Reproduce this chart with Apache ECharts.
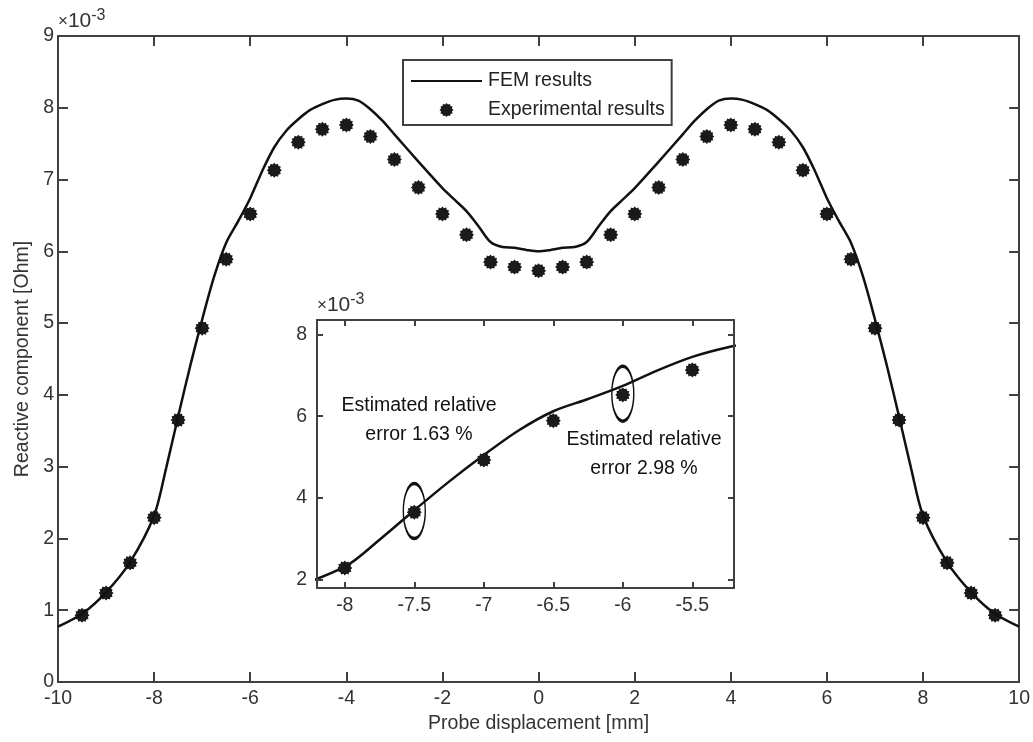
<!DOCTYPE html>
<html>
<head>
<meta charset="utf-8">
<script src="https://cdn.jsdelivr.net/npm/echarts@6/dist/echarts.min.js"></script>
<style>
  html, body { margin: 0; padding: 0; background: #fff; }
  #chart { width: 1033px; height: 742px; }
</style>
</head>
<body>
<div id="chart"></div>
<script>
// FEM curve (x in mm, y in 1e-3 Ohm)
var femX = [-10, -9.5, -9, -8.5, -8, -7.75, -7.5, -7.25, -7, -6.75, -6.5, -6.25, -6, -5.75, -5.5, -5.25, -5, -4.75, -4.5, -4.25, -4,
    -3.75, -3.5, -3.25, -3, -2.5, -2, -1.75, -1.5, -1.25, -1, -0.75, -0.5, -0.25, 0,
    0.25, 0.5, 0.75, 1, 1.25, 1.5, 1.75, 2, 2.5, 3, 3.25, 3.5, 3.75, 4,
    4.25, 4.5, 4.75, 5, 5.25, 5.5, 5.75, 6, 6.25, 6.5, 6.75, 7, 7.25, 7.5, 7.75, 8, 8.5, 9, 9.5, 10];
var femY = [0.77, 0.95, 1.25, 1.67, 2.32, 2.98, 3.70, 4.40, 5.05, 5.65, 6.12, 6.42, 6.74, 7.12, 7.45, 7.68, 7.84, 7.97, 8.05, 8.11, 8.13,
    8.10, 7.98, 7.82, 7.63, 7.25, 6.88, 6.72, 6.56, 6.35, 6.13, 6.06, 6.05, 6.02, 6.00,
    6.02, 6.05, 6.06, 6.13, 6.35, 6.56, 6.72, 6.88, 7.25, 7.63, 7.82, 7.98, 8.10, 8.13,
    8.11, 8.05, 7.97, 7.84, 7.68, 7.45, 7.12, 6.74, 6.42, 6.12, 5.65, 5.05, 4.40, 3.70, 2.98, 2.32, 1.67, 1.25, 0.95, 0.77];

// experimental points
var expX = [-9.5, -9, -8.5, -8, -7.5, -7, -6.5, -6, -5.5, -5, -4.5, -4, -3.5, -3, -2.5, -2, -1.5, -1, -0.5, 0,
    0.5, 1, 1.5, 2, 2.5, 3, 3.5, 4, 4.5, 5, 5.5, 6, 6.5, 7, 7.5, 8, 8.5, 9, 9.5];
var expY = [0.93, 1.24, 1.66, 2.29, 3.65, 4.93, 5.89, 6.52, 7.13, 7.52, 7.70, 7.76, 7.60, 7.28, 6.89, 6.52, 6.23, 5.85, 5.78, 5.73,
    5.78, 5.85, 6.23, 6.52, 6.89, 7.28, 7.60, 7.76, 7.70, 7.52, 7.13, 6.52, 5.89, 4.93, 3.65, 2.29, 1.66, 1.24, 0.93];

// points circled in the inset
var markX = [-7.5, -6];
var markY = [3.68, 6.55];

var insetXTicks = [-8, -7.5, -7, -6.5, -6, -5.5];
var insetYTicks = [2, 4, 6, 8];

function pairs(xs, ys) {
    return xs.map(function (x, i) { return [x, ys[i]]; });
}

// asterisk-like marker
function starPath(n) {
    var pts = [];
    for (var i = 0; i < n * 2; i++) {
        var r = i % 2 == 0 ? 10 : 8.0;
        var a = Math.PI * i / n;
        pts.push((10 + r * Math.sin(a)).toFixed(2) + ',' + (10 - r * Math.cos(a)).toFixed(2));
    }
    return 'path://M' + pts.join('L') + 'Z';
}
var star = starPath(12);

var font = 'Liberation Sans, Arial, sans-serif';
var fs = 19.5;
var axisColor = '#404040';
var textColor = '#333';
var markColor = '#1a1a1a';

function boxAxis(pos, min, max, interval, grid, len, extra) {
    var ax = {
        type: 'value',
        gridIndex: grid,
        position: pos,
        min: min,
        max: max,
        interval: interval,
        z: grid == 1 ? 7 : 0,
        axisLine: { show: true, onZero: false, lineStyle: { color: axisColor, width: 2 } },
        axisTick: { show: true, inside: true, length: len, lineStyle: { color: axisColor, width: 2 } },
        axisLabel: { show: false },
        splitLine: { show: false }
    };
    return Object.assign(ax, extra || {});
}

function insetTicks(vals) {
    return { show: true, inside: true, length: 6, customValues: vals, lineStyle: { color: axisColor, width: 2 } };
}

var expoText = {
    text: '{x|×}10{sup|-3}', fontSize: 21, fill: textColor, fontFamily: font,
    rich: {
        x: { fontSize: 17, fill: textColor },
        sup: { fontSize: 16, verticalAlign: 'top', padding: [0, 0, 10, 0], fill: textColor }
    }
};

var chart = echarts.init(document.getElementById('chart'));
var option = {
    animation: false,
    backgroundColor: '#fff',
    textStyle: { fontFamily: font },
    grid: [
        { left: 58, right: 13, top: 36, bottom: 60 },
        { left: 317, top: 320, width: 417, height: 268, show: true, backgroundColor: '#fff', borderWidth: 0, z: 5 }
    ],
    legend: {
        orient: 'vertical',
        left: 403,
        top: 60,
        itemWidth: 71,
        itemHeight: 14,
        itemGap: 9,
        padding: [11, 7, 5, 8],
        borderColor: axisColor,
        borderWidth: 2,
        backgroundColor: '#fff',
        textStyle: { fontSize: fs, color: '#222', fontFamily: font, padding: [0, 0, 0, 1] },
        data: [
            { name: 'FEM results', icon: 'path://M0,0L71,0L71,2.2L0,2.2Z' },
            { name: 'Experimental results', icon: star }
        ]
    },
    xAxis: [
        boxAxis('bottom', -10, 10, 2, 0, 10, {
            name: 'Probe displacement [mm]',
            nameLocation: 'middle',
            nameGap: 29,
            nameTextStyle: { fontSize: fs, color: textColor },
            axisLabel: { show: true, fontSize: fs, color: textColor, margin: 7 }
        }),
        boxAxis('top', -10, 10, 2, 0, 10),
        boxAxis('bottom', -8.2, -5.2, null, 1, 6, {
            axisTick: insetTicks(insetXTicks),
            axisLabel: { show: true, fontSize: fs, color: textColor, margin: 8, customValues: insetXTicks }
        }),
        boxAxis('top', -8.2, -5.2, null, 1, 6, { axisTick: insetTicks(insetXTicks) })
    ],
    yAxis: [
        boxAxis('left', 0, 9, 1, 0, 10, {
            name: 'Reactive component [Ohm]',
            nameLocation: 'middle',
            nameGap: 25,
            nameTextStyle: { fontSize: fs, color: textColor },
            axisLabel: { show: true, fontSize: fs, color: textColor, margin: 4 }
        }),
        boxAxis('right', 0, 9, 1, 0, 10),
        boxAxis('left', 1.8, 8.35, null, 1, 6, {
            axisTick: insetTicks(insetYTicks),
            axisLabel: { show: true, fontSize: fs, color: textColor, margin: 10, customValues: insetYTicks }
        }),
        boxAxis('right', 1.8, 8.35, null, 1, 6, { axisTick: insetTicks(insetYTicks) })
    ],
    series: [
        {
            name: 'FEM results',
            type: 'line',
            xAxisIndex: 0,
            yAxisIndex: 0,
            symbol: 'none',
            smooth: 0.3,
            lineStyle: { color: '#111', width: 2.5 },
            itemStyle: { color: '#111' },
            data: pairs(femX, femY)
        },
        {
            name: 'Experimental results',
            type: 'scatter',
            xAxisIndex: 0,
            yAxisIndex: 0,
            symbol: star,
            symbolSize: 15,
            itemStyle: { color: markColor, opacity: 1 },
            data: pairs(expX, expY)
        },
        {
            name: 'FEM inset',
            type: 'line',
            xAxisIndex: 2,
            yAxisIndex: 2,
            symbol: 'none',
            smooth: 0.3,
            clip: true,
            z: 6,
            lineStyle: { color: '#111', width: 2.5 },
            data: pairs(femX, femY)
        },
        {
            name: 'Experimental inset',
            type: 'scatter',
            xAxisIndex: 2,
            yAxisIndex: 2,
            symbol: star,
            symbolSize: 15,
            clip: true,
            z: 6,
            itemStyle: { color: markColor, opacity: 1 },
            data: pairs(expX, expY)
        },
        {
            name: 'Circled',
            type: 'scatter',
            xAxisIndex: 2,
            yAxisIndex: 2,
            symbol: 'circle',
            symbolSize: [22, 55],
            z: 6,
            silent: true,
            itemStyle: { color: 'rgba(0,0,0,0)', borderColor: '#111', borderWidth: 2.2, opacity: 1 },
            data: pairs(markX, markY)
        }
    ],
    graphic: [
        { type: 'text', left: 58, top: 8, z: 100, style: expoText },
        { type: 'text', left: 317, top: 292, z: 100, style: expoText },
        {
            type: 'text', x: 419, y: 391, z: 100,
            style: {
                text: 'Estimated relative\nerror 1.63 %', fontSize: fs, lineHeight: 29,
                fill: '#111', fontFamily: font, align: 'center'
            }
        },
        {
            type: 'text', x: 647, y: 425, z: 100,
            style: {
                text: 'Estimated relative\nerror 2.98 %', fontSize: fs, lineHeight: 29,
                fill: '#111', fontFamily: font, align: 'center',
                backgroundColor: '#fff', padding: [0, 10, 0, 4]
            }
        }
    ]
};
chart.setOption(option);
</script>
</body>
</html>
